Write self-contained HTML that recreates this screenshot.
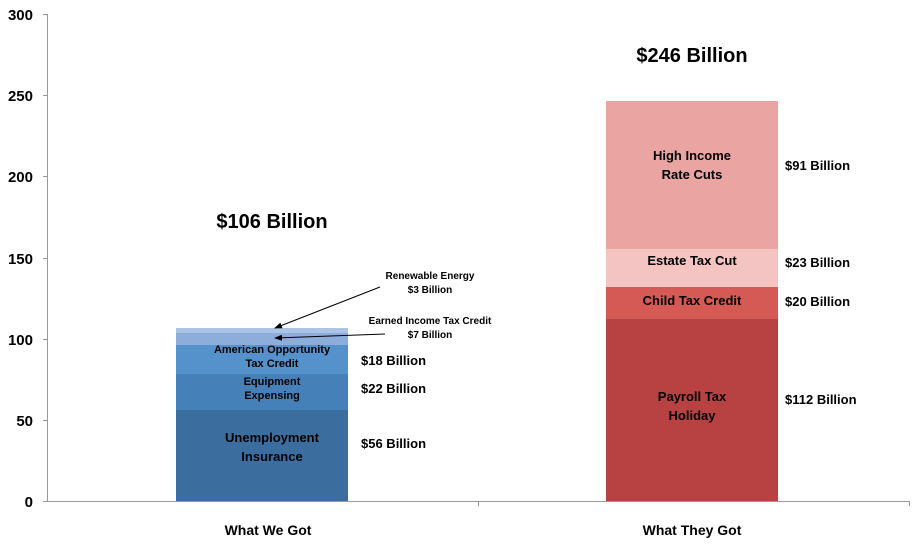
<!DOCTYPE html>
<html><head><style>
body{margin:0;background:#fff;}
svg text{font-family:"Liberation Sans",sans-serif;font-weight:bold;fill:#000;}
</style></head><body>
<svg width="913" height="543" viewBox="0 0 913 543" xmlns="http://www.w3.org/2000/svg">
<defs><marker id="ar" markerWidth="8" markerHeight="6" refX="7" refY="3" orient="auto"><path d="M0,0 L8,3 L0,6 z" fill="#000"/></marker></defs>
<g stroke="#999" stroke-width="1">
<line x1="47.5" y1="14" x2="47.5" y2="501"/>
<line x1="43" y1="14.5" x2="47" y2="14.5"/>
<line x1="43" y1="95.5" x2="47" y2="95.5"/>
<line x1="43" y1="176.5" x2="47" y2="176.5"/>
<line x1="43" y1="258.5" x2="47" y2="258.5"/>
<line x1="43" y1="339.5" x2="47" y2="339.5"/>
<line x1="43" y1="420.5" x2="47" y2="420.5"/>
<line x1="43" y1="501.5" x2="910" y2="501.5"/>
<line x1="478.5" y1="501" x2="478.5" y2="506"/>
<line x1="909.5" y1="501" x2="909.5" y2="506"/>
</g>
<g font-size="15" text-anchor="end">
<text x="33" y="20">300</text><text x="33" y="101">250</text><text x="33" y="182">200</text>
<text x="33" y="264">150</text><text x="33" y="345">100</text><text x="33" y="426">50</text><text x="33" y="507">0</text>
</g>
<!-- left bar -->
<rect x="176" y="410" width="172" height="91" fill="#3b6e9f"/>
<rect x="176" y="374" width="172" height="36" fill="#4680b8"/>
<rect x="176" y="345" width="172" height="29" fill="#5592cc"/>
<rect x="176" y="333" width="172" height="12" fill="#8daedb"/>
<rect x="176" y="328" width="172" height="5" fill="#abc3e4"/>
<!-- right bar -->
<rect x="606" y="319" width="172" height="182" fill="#b84241"/>
<rect x="606" y="287" width="172" height="32" fill="#d55a55"/>
<rect x="606" y="249" width="172" height="38" fill="#f4c4c2"/>
<rect x="606" y="101" width="172" height="148" fill="#eaa5a3"/>
<g text-anchor="middle" font-size="13">
<text x="272" y="442">Unemployment</text><text x="272" y="461">Insurance</text>
<text x="272" y="385" font-size="11">Equipment</text><text x="272" y="399" font-size="11">Expensing</text>
<text x="272" y="353" font-size="11">American Opportunity</text><text x="272" y="367" font-size="11">Tax Credit</text>
<text x="692" y="401">Payroll Tax</text><text x="692" y="420">Holiday</text>
<text x="692" y="305">Child Tax Credit</text>
<text x="692" y="265">Estate Tax Cut</text>
<text x="692" y="160">High Income</text><text x="692" y="179">Rate Cuts</text>
<text x="430" y="279" font-size="10">Renewable Energy</text><text x="430" y="293" font-size="10">$3 Billion</text>
<text x="430" y="324" font-size="10">Earned Income Tax Credit</text><text x="430" y="338" font-size="10">$7 Billion</text>
<text x="272" y="228" font-size="20">$106 Billion</text>
<text x="692" y="62" font-size="20">$246 Billion</text>
<text x="268" y="535" font-size="14">What We Got</text>
<text x="692" y="535" font-size="14">What They Got</text>
</g>
<g font-size="13">
<text x="361" y="448">$56 Billion</text>
<text x="361" y="393">$22 Billion</text>
<text x="361" y="365">$18 Billion</text>
<text x="785" y="404">$112 Billion</text>
<text x="785" y="306">$20 Billion</text>
<text x="785" y="267">$23 Billion</text>
<text x="785" y="170">$91 Billion</text>
</g>
<g stroke="#000" stroke-width="1" fill="none">
<line x1="380" y1="287" x2="275" y2="328" marker-end="url(#ar)"/>
<line x1="385" y1="334" x2="275" y2="338" marker-end="url(#ar)"/>
</g>
</svg>
</body></html>
